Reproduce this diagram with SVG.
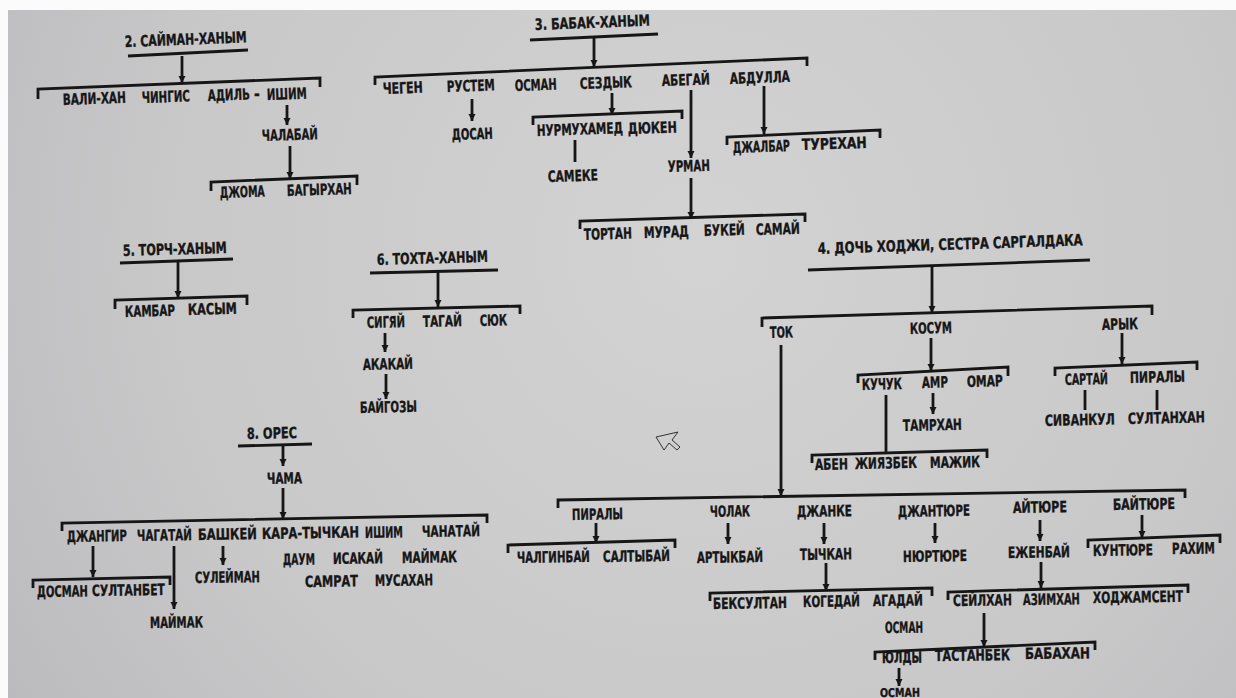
<svg xmlns="http://www.w3.org/2000/svg" width="1236" height="698" viewBox="0 0 1236 698">
<defs>
<radialGradient id="bg" cx="700" cy="250" r="900" gradientUnits="userSpaceOnUse">
<stop offset="0" stop-color="#d3d3d4"/>
<stop offset="0.6" stop-color="#c8c8c9"/>
<stop offset="1" stop-color="#b8b8bb"/>
</radialGradient>
<marker id="ah" markerUnits="userSpaceOnUse" markerWidth="9" markerHeight="8" refX="7" refY="3.5" orient="auto">
<path d="M0,0 L7,3.5 L0,7 z" fill="#161616"/>
</marker>
<style>
.t{font-family:"DejaVu Sans Condensed","Liberation Sans Narrow","Liberation Sans",sans-serif;font-weight:bold;font-size:15.5px;fill:#161616;stroke:#161616;stroke-width:0.35}
.c{stroke:#161616;stroke-width:2.8;fill:none;stroke-linejoin:miter}
.a{marker-end:url(#ah)}
</style>
</defs>
<rect width="1236" height="698" fill="#fbfbfb"/>
<rect x="8" y="10" width="1228" height="688" fill="url(#bg)"/>

<g id="connectors">
<!-- family 2 -->
<line class="c" x1="128" y1="56" x2="248" y2="50"/>
<line class="c a" x1="182" y1="56" x2="182" y2="83"/>
<polyline class="c" points="38,99 38,89 320,78 320,87"/>
<line class="c a" x1="287" y1="105" x2="287" y2="125"/>
<line class="c a" x1="290" y1="146" x2="290" y2="179"/>
<polyline class="c" points="211,191 211,182 357,176 357,185"/>
<!-- family 3 -->
<line class="c" x1="530" y1="40" x2="658" y2="34"/>
<line class="c a" x1="594" y1="38" x2="594" y2="67"/>
<polyline class="c" points="375,85 375,77 807,58 807,66"/>
<line class="c a" x1="472" y1="99" x2="472" y2="121"/>
<line class="c a" x1="612" y1="93" x2="612" y2="115"/>
<polyline class="c" points="533,125 533,117 682,111 682,119"/>
<line class="c" x1="575" y1="140" x2="575" y2="162"/>
<line class="c a" x1="691" y1="90" x2="691" y2="158"/>
<line class="c a" x1="691" y1="178" x2="691" y2="219"/>
<polyline class="c" points="580,229 580,221 805,214 805,222"/>
<line class="c a" x1="764" y1="86" x2="764" y2="134"/>
<polyline class="c" points="727,145 727,137 880,130 880,138"/>
<!-- family 5 -->
<line class="c" x1="120" y1="263" x2="233" y2="259"/>
<line class="c a" x1="178" y1="262" x2="178" y2="298"/>
<polyline class="c" points="115,309 115,300 247,296 247,305"/>
<!-- family 6 -->
<line class="c" x1="370" y1="273" x2="498" y2="270"/>
<line class="c a" x1="438" y1="272" x2="438" y2="307"/>
<polyline class="c" points="353,318 353,310 520,306 520,314"/>
<line class="c a" x1="385" y1="333" x2="385" y2="352"/>
<line class="c a" x1="386" y1="374" x2="386" y2="399"/>
<!-- family 8 -->
<line class="c" x1="238" y1="446" x2="312" y2="444"/>
<line class="c a" x1="283" y1="446" x2="283" y2="466"/>
<line class="c a" x1="283" y1="488" x2="283" y2="519"/>
<polyline class="c" points="62,531 62,523 487,515 487,523"/>
<line class="c a" x1="93" y1="546" x2="93" y2="577"/>
<polyline class="c" points="33,588 33,580 170,577 170,585"/>
<line class="c a" x1="174" y1="546" x2="174" y2="609"/>
<line class="c a" x1="223" y1="546" x2="223" y2="565"/>
<!-- family 4 -->
<line class="c" x1="808" y1="270" x2="1090" y2="260"/>
<line class="c a" x1="932" y1="266" x2="932" y2="313"/>
<polyline class="c" points="762,327 762,318 1152,306 1152,315"/>
<line class="c a" x1="781" y1="345" x2="781" y2="496"/>
<line class="c a" x1="931" y1="338" x2="931" y2="371"/>
<polyline class="c" points="858,383 858,375 1008,367 1008,376"/>
<line class="c a" x1="933" y1="393" x2="933" y2="414"/>
<line class="c" x1="886" y1="395" x2="886" y2="453"/>
<polyline class="c" points="812,463 812,455 987,450 987,458"/>
<line class="c a" x1="1122" y1="333" x2="1122" y2="364"/>
<polyline class="c" points="1055,376 1055,368 1197,362 1197,370"/>
<line class="c" x1="1085" y1="390" x2="1085" y2="410"/>
<line class="c" x1="1157" y1="390" x2="1157" y2="410"/>
<!-- Tok children -->
<polyline class="c" points="558,508 558,500 1185,490 1185,498"/>
<line class="c a" x1="596" y1="523" x2="596" y2="543"/>
<polyline class="c" points="508,553 508,545 675,540 675,548"/>
<line class="c a" x1="728" y1="523" x2="728" y2="544"/>
<line class="c a" x1="824" y1="523" x2="824" y2="544"/>
<line class="c a" x1="826" y1="563" x2="826" y2="591"/>
<polyline class="c" points="710,601 710,593 932,588 932,596"/>
<line class="c a" x1="935" y1="523" x2="935" y2="543"/>
<line class="c a" x1="1040" y1="520" x2="1040" y2="541"/>
<line class="c a" x1="1041" y1="562" x2="1041" y2="588"/>
<polyline class="c" points="948,600 948,592 1188,585 1188,593"/>
<line class="c a" x1="984" y1="613" x2="984" y2="647"/>
<polyline class="c" points="875,660 875,652 1095,642 1095,650"/>
<line class="c a" x1="899" y1="668" x2="899" y2="686"/>
<line class="c a" x1="1142" y1="515" x2="1142" y2="538"/>
<polyline class="c" points="1088,548 1088,540 1220,535 1220,543"/>
</g>

<!-- family 2 -->
<g id="n-saiman"><text class="t" x="125" y="47" textLength="122" lengthAdjust="spacingAndGlyphs" transform="rotate(-2.2 125 47)">2. САЙМАН-ХАНЫМ</text></g>
<g id="n-vali-khan"><text class="t" x="63" y="105" textLength="63" lengthAdjust="spacingAndGlyphs" transform="rotate(-2.1 63 105)">ВАЛИ-ХАН</text></g>
<g id="n-chingis"><text class="t" x="142" y="103" textLength="48" lengthAdjust="spacingAndGlyphs" transform="rotate(-2.1 142 103)">ЧИНГИС</text></g>
<g id="n-adil"><text class="t" x="208" y="101" textLength="42" lengthAdjust="spacingAndGlyphs" transform="rotate(-2.1 208 101)">АДИЛЬ</text><text class="t" x="254" y="99">-</text></g>
<g id="n-ishim1"><text class="t" x="267" y="100" textLength="40" lengthAdjust="spacingAndGlyphs" transform="rotate(-2.1 267 100)">ИШИМ</text></g>
<g id="n-chalabai"><text class="t" x="262" y="141" textLength="56" lengthAdjust="spacingAndGlyphs" transform="rotate(-1.95 262 141)">ЧАЛАБАЙ</text></g>
<g id="n-djoma"><text class="t" x="220" y="198" textLength="45" lengthAdjust="spacingAndGlyphs" transform="rotate(-1.8 220 198)">ДЖОМА</text></g>
<g id="n-bagyrkhan"><text class="t" x="287" y="196" textLength="65" lengthAdjust="spacingAndGlyphs" transform="rotate(-1.8 287 196)">БАГЫРХАН</text></g>

<!-- family 3 -->
<g id="n-babak"><text class="t" x="535" y="30" textLength="115" lengthAdjust="spacingAndGlyphs" transform="rotate(-2.2 535 30)">3. БАБАК-ХАНЫМ</text></g>
<g id="n-chegen"><text class="t" x="383" y="94" textLength="40" lengthAdjust="spacingAndGlyphs" transform="rotate(-2.1 383 94)">ЧЕГЕН</text></g>
<g id="n-rustem"><text class="t" x="447" y="92" textLength="48" lengthAdjust="spacingAndGlyphs" transform="rotate(-2.1 447 92)">РУСТЕМ</text></g>
<g id="n-osman1"><text class="t" x="515" y="91" textLength="42" lengthAdjust="spacingAndGlyphs" transform="rotate(-2.1 515 91)">ОСМАН</text></g>
<g id="n-sezdyk"><text class="t" x="580" y="89" textLength="52" lengthAdjust="spacingAndGlyphs" transform="rotate(-2.1 580 89)">СЕЗДЫК</text></g>
<g id="n-abegai"><text class="t" x="662" y="86" textLength="48" lengthAdjust="spacingAndGlyphs" transform="rotate(-2.1 662 86)">АБЕГАЙ</text></g>
<g id="n-abdulla"><text class="t" x="730" y="84" textLength="60" lengthAdjust="spacingAndGlyphs" transform="rotate(-2.1 730 84)">АБДУЛЛА</text></g>
<g id="n-dosan"><text class="t" x="452" y="140" textLength="41" lengthAdjust="spacingAndGlyphs" transform="rotate(-1.95 452 140)">ДОСАН</text></g>
<g id="n-nurmukhamed"><text class="t" x="537" y="136" textLength="86" lengthAdjust="spacingAndGlyphs" transform="rotate(-1.95 537 136)">НУРМУХАМЕД</text></g>
<g id="n-dyuken"><text class="t" x="628" y="134" textLength="49" lengthAdjust="spacingAndGlyphs" transform="rotate(-1.95 628 134)">ДЮКЕН</text></g>
<g id="n-sameke"><text class="t" x="548" y="182" textLength="50" lengthAdjust="spacingAndGlyphs" transform="rotate(-1.85 548 182)">САМЕКЕ</text></g>
<g id="n-urman"><text class="t" x="668" y="172" textLength="42" lengthAdjust="spacingAndGlyphs" transform="rotate(-1.85 668 172)">УРМАН</text></g>
<g id="n-tortan"><text class="t" x="584" y="240" textLength="48" lengthAdjust="spacingAndGlyphs" transform="rotate(-1.7 584 240)">ТОРТАН</text></g>
<g id="n-murad"><text class="t" x="644" y="238" textLength="45" lengthAdjust="spacingAndGlyphs" transform="rotate(-1.7 644 238)">МУРАД</text></g>
<g id="n-bukei"><text class="t" x="704" y="236" textLength="41" lengthAdjust="spacingAndGlyphs" transform="rotate(-1.7 704 236)">БУКЕЙ</text></g>
<g id="n-samai"><text class="t" x="756" y="235" textLength="44" lengthAdjust="spacingAndGlyphs" transform="rotate(-1.7 756 235)">САМАЙ</text></g>
<g id="n-djalbar"><text class="t" x="733" y="153" textLength="57" lengthAdjust="spacingAndGlyphs" transform="rotate(-1.9 733 153)">ДЖАЛБАР</text></g>
<g id="n-turekhan"><text class="t" x="802" y="150" textLength="65" lengthAdjust="spacingAndGlyphs" transform="rotate(-1.9 802 150)">ТУРЕХАН</text></g>

<!-- family 5 -->
<g id="n-torch"><text class="t" x="123" y="256" textLength="104" lengthAdjust="spacingAndGlyphs" transform="rotate(-1.65 123 256)">5. ТОРЧ-ХАНЫМ</text></g>
<g id="n-kambar"><text class="t" x="125" y="317" textLength="50" lengthAdjust="spacingAndGlyphs" transform="rotate(-1.5 125 317)">КАМБАР</text></g>
<g id="n-kasym"><text class="t" x="188" y="315" textLength="49" lengthAdjust="spacingAndGlyphs" transform="rotate(-1.5 188 315)">КАСЫМ</text></g>

<!-- family 6 -->
<g id="n-tokhta"><text class="t" x="377" y="265" textLength="111" lengthAdjust="spacingAndGlyphs" transform="rotate(-1.65 377 265)">6. ТОХТА-ХАНЫМ</text></g>
<g id="n-sigyai"><text class="t" x="367" y="328" textLength="38" lengthAdjust="spacingAndGlyphs" transform="rotate(-1.5 367 328)">СИГЯЙ</text></g>
<g id="n-tagai"><text class="t" x="423" y="327" textLength="39" lengthAdjust="spacingAndGlyphs" transform="rotate(-1.5 423 327)">ТАГАЙ</text></g>
<g id="n-syuk"><text class="t" x="480" y="326" textLength="27" lengthAdjust="spacingAndGlyphs" transform="rotate(-1.5 480 326)">СЮК</text></g>
<g id="n-akakai"><text class="t" x="363" y="370" textLength="50" lengthAdjust="spacingAndGlyphs" transform="rotate(-1.35 363 370)">АКАКАЙ</text></g>
<g id="n-baigozy"><text class="t" x="360" y="413" textLength="57" lengthAdjust="spacingAndGlyphs" transform="rotate(-1.25 360 413)">БАЙГОЗЫ</text></g>

<!-- family 8 -->
<g id="n-ores"><text class="t" x="247" y="439" textLength="50" lengthAdjust="spacingAndGlyphs" transform="rotate(-1.2 247 439)">8. ОРЕС</text></g>
<g id="n-chama"><text class="t" x="267" y="484" textLength="35" lengthAdjust="spacingAndGlyphs" transform="rotate(-1.1 267 484)">ЧАМА</text></g>
<g id="n-djangir"><text class="t" x="67" y="542" textLength="60" lengthAdjust="spacingAndGlyphs" transform="rotate(-1 67 542)">ДЖАНГИР</text></g>
<g id="n-chagatai"><text class="t" x="137" y="541" textLength="55" lengthAdjust="spacingAndGlyphs" transform="rotate(-1 137 541)">ЧАГАТАЙ</text></g>
<g id="n-bashkei"><text class="t" x="198" y="540" textLength="59" lengthAdjust="spacingAndGlyphs" transform="rotate(-1 198 540)">БАШКЕЙ</text></g>
<g id="n-kara-tychkan"><text class="t" x="262" y="539" textLength="97" lengthAdjust="spacingAndGlyphs" transform="rotate(-1 262 539)">КАРА-ТЫЧКАН</text></g>
<g id="n-ishim2"><text class="t" x="365" y="538" textLength="38" lengthAdjust="spacingAndGlyphs" transform="rotate(-1 365 538)">ИШИМ</text></g>
<g id="n-chanatai"><text class="t" x="422" y="537" textLength="58" lengthAdjust="spacingAndGlyphs" transform="rotate(-1 422 537)">ЧАНАТАЙ</text></g>
<g id="n-dosman"><text class="t" x="37" y="597" textLength="51" lengthAdjust="spacingAndGlyphs" transform="rotate(-0.8 37 597)">ДОСМАН</text></g>
<g id="n-sultanbet"><text class="t" x="92" y="596" textLength="73" lengthAdjust="spacingAndGlyphs" transform="rotate(-0.8 92 596)">СУЛТАНБЕТ</text></g>
<g id="n-maimak1"><text class="t" x="150" y="628" textLength="53" lengthAdjust="spacingAndGlyphs" transform="rotate(-0.7 150 628)">МАЙМАК</text></g>
<g id="n-suleiman"><text class="t" x="195" y="583" textLength="65" lengthAdjust="spacingAndGlyphs" transform="rotate(-0.8 195 583)">СУЛЕЙМАН</text></g>
<g id="n-daum"><text class="t" x="283" y="565" textLength="32" lengthAdjust="spacingAndGlyphs" transform="rotate(-0.9 283 565)">ДАУМ</text></g>
<g id="n-isakai"><text class="t" x="333" y="564" textLength="50" lengthAdjust="spacingAndGlyphs" transform="rotate(-0.9 333 564)">ИСАКАЙ</text></g>
<g id="n-maimak2"><text class="t" x="402" y="563" textLength="55" lengthAdjust="spacingAndGlyphs" transform="rotate(-0.9 402 563)">МАЙМАК</text></g>
<g id="n-samrat"><text class="t" x="305" y="587" textLength="53" lengthAdjust="spacingAndGlyphs" transform="rotate(-0.8 305 587)">САМРАТ</text></g>
<g id="n-musakhan"><text class="t" x="375" y="586" textLength="58" lengthAdjust="spacingAndGlyphs" transform="rotate(-0.8 375 586)">МУСАХАН</text></g>

<!-- family 4 -->
<g id="n-doch"><text class="t" x="818" y="254" textLength="265" lengthAdjust="spacingAndGlyphs" transform="rotate(-1.9 818 254)">4. ДОЧЬ ХОДЖИ, СЕСТРА САРГАЛДАКА</text></g>
<g id="n-tok"><text class="t" x="770" y="338" textLength="23" lengthAdjust="spacingAndGlyphs" transform="rotate(-1.5 770 338)">ТОК</text></g>
<g id="n-kosum"><text class="t" x="910" y="334" textLength="42" lengthAdjust="spacingAndGlyphs" transform="rotate(-1.5 910 334)">КОСУМ</text></g>
<g id="n-aryk"><text class="t" x="1102" y="330" textLength="36" lengthAdjust="spacingAndGlyphs" transform="rotate(-1.5 1102 330)">АРЫК</text></g>
<g id="n-kuchuk"><text class="t" x="862" y="390" textLength="40" lengthAdjust="spacingAndGlyphs" transform="rotate(-1.35 862 390)">КУЧУК</text></g>
<g id="n-amr"><text class="t" x="922" y="388" textLength="26" lengthAdjust="spacingAndGlyphs" transform="rotate(-1.35 922 388)">АМР</text></g>
<g id="n-omar"><text class="t" x="967" y="387" textLength="36" lengthAdjust="spacingAndGlyphs" transform="rotate(-1.35 967 387)">ОМАР</text></g>
<g id="n-tamrkhan"><text class="t" x="903" y="431" textLength="59" lengthAdjust="spacingAndGlyphs" transform="rotate(-1.25 903 431)">ТАМРХАН</text></g>
<g id="n-aben"><text class="t" x="815" y="470" textLength="33" lengthAdjust="spacingAndGlyphs" transform="rotate(-1.1 815 470)">АБЕН</text></g>
<g id="n-zhiyazbek"><text class="t" x="855" y="469" textLength="62" lengthAdjust="spacingAndGlyphs" transform="rotate(-1.1 855 469)">ЖИЯЗБЕК</text></g>
<g id="n-mazhik"><text class="t" x="930" y="468" textLength="50" lengthAdjust="spacingAndGlyphs" transform="rotate(-1.1 930 468)">МАЖИК</text></g>
<g id="n-sartai"><text class="t" x="1065" y="385" textLength="43" lengthAdjust="spacingAndGlyphs" transform="rotate(-1.35 1065 385)">САРТАЙ</text></g>
<g id="n-piraly1"><text class="t" x="1130" y="383" textLength="55" lengthAdjust="spacingAndGlyphs" transform="rotate(-1.35 1130 383)">ПИРАЛЫ</text></g>
<g id="n-sivankul"><text class="t" x="1045" y="426" textLength="70" lengthAdjust="spacingAndGlyphs" transform="rotate(-1.25 1045 426)">СИВАНКУЛ</text></g>
<g id="n-sultankhan"><text class="t" x="1128" y="424" textLength="77" lengthAdjust="spacingAndGlyphs" transform="rotate(-1.25 1128 424)">СУЛТАНХАН</text></g>

<!-- Tok children -->
<g id="n-piraly2"><text class="t" x="572" y="520" textLength="51" lengthAdjust="spacingAndGlyphs" transform="rotate(-1 572 520)">ПИРАЛЫ</text></g>
<g id="n-cholak"><text class="t" x="710" y="517" textLength="40" lengthAdjust="spacingAndGlyphs" transform="rotate(-1 710 517)">ЧОЛАК</text></g>
<g id="n-djanke"><text class="t" x="797" y="517" textLength="55" lengthAdjust="spacingAndGlyphs" transform="rotate(-1 797 517)">ДЖАНКЕ</text></g>
<g id="n-djantyure"><text class="t" x="898" y="517" textLength="72" lengthAdjust="spacingAndGlyphs" transform="rotate(-1 898 517)">ДЖАНТЮРЕ</text></g>
<g id="n-aityure"><text class="t" x="1013" y="513" textLength="54" lengthAdjust="spacingAndGlyphs" transform="rotate(-1 1013 513)">АЙТЮРЕ</text></g>
<g id="n-baityure"><text class="t" x="1113" y="510" textLength="62" lengthAdjust="spacingAndGlyphs" transform="rotate(-1 1113 510)">БАЙТЮРЕ</text></g>
<g id="n-chalginbai"><text class="t" x="517" y="563" textLength="73" lengthAdjust="spacingAndGlyphs" transform="rotate(-0.9 517 563)">ЧАЛГИНБАЙ</text></g>
<g id="n-saltybai"><text class="t" x="603" y="562" textLength="67" lengthAdjust="spacingAndGlyphs" transform="rotate(-0.9 603 562)">САЛТЫБАЙ</text></g>
<g id="n-artykbai"><text class="t" x="697" y="563" textLength="66" lengthAdjust="spacingAndGlyphs" transform="rotate(-0.9 697 563)">АРТЫКБАЙ</text></g>
<g id="n-tychkan"><text class="t" x="800" y="560" textLength="52" lengthAdjust="spacingAndGlyphs" transform="rotate(-0.9 800 560)">ТЫЧКАН</text></g>
<g id="n-beksultan"><text class="t" x="713" y="609" textLength="74" lengthAdjust="spacingAndGlyphs" transform="rotate(-0.8 713 609)">БЕКСУЛТАН</text></g>
<g id="n-kogedai"><text class="t" x="803" y="607" textLength="57" lengthAdjust="spacingAndGlyphs" transform="rotate(-0.8 803 607)">КОГЕДАЙ</text></g>
<g id="n-agadai"><text class="t" x="873" y="606" textLength="50" lengthAdjust="spacingAndGlyphs" transform="rotate(-0.8 873 606)">АГАДАЙ</text></g>
<g id="n-osman2"><text class="t" x="885" y="633" textLength="38" lengthAdjust="spacingAndGlyphs" transform="rotate(-0.7 885 633)">ОСМАН</text></g>
<g id="n-nyurtyure"><text class="t" x="903" y="562" textLength="64" lengthAdjust="spacingAndGlyphs" transform="rotate(-0.9 903 562)">НЮРТЮРЕ</text></g>
<g id="n-ezhenbai"><text class="t" x="1008" y="558" textLength="62" lengthAdjust="spacingAndGlyphs" transform="rotate(-0.9 1008 558)">ЕЖЕНБАЙ</text></g>
<g id="n-seilkhan"><text class="t" x="953" y="606" textLength="59" lengthAdjust="spacingAndGlyphs" transform="rotate(-0.8 953 606)">СЕЙЛХАН</text></g>
<g id="n-azimkhan"><text class="t" x="1023" y="605" textLength="57" lengthAdjust="spacingAndGlyphs" transform="rotate(-0.8 1023 605)">АЗИМХАН</text></g>
<g id="n-khodjamsent"><text class="t" x="1093" y="603" textLength="90" lengthAdjust="spacingAndGlyphs" transform="rotate(-0.8 1093 603)">ХОДЖАМСЕНТ</text></g>
<g id="n-yuldy"><text class="t" x="882" y="663" textLength="40" lengthAdjust="spacingAndGlyphs" transform="rotate(-0.65 882 663)">ЮЛДЫ</text></g>
<g id="n-tastanbek"><text class="t" x="935" y="661" textLength="75" lengthAdjust="spacingAndGlyphs" transform="rotate(-0.65 935 661)">ТАСТАНБЕК</text></g>
<g id="n-babakhan"><text class="t" x="1025" y="659" textLength="65" lengthAdjust="spacingAndGlyphs" transform="rotate(-0.65 1025 659)">БАБАХАН</text></g>
<g id="n-osman3"><text class="t" x="880" y="697" textLength="40" lengthAdjust="spacingAndGlyphs" style="font-size:12px" transform="rotate(-0.55 880 697)">ОСМАН</text></g>
<g id="n-kuntyure"><text class="t" x="1093" y="556" textLength="60" lengthAdjust="spacingAndGlyphs" transform="rotate(-0.9 1093 556)">КУНТЮРЕ</text></g>
<g id="n-rakhim"><text class="t" x="1172" y="554" textLength="43" lengthAdjust="spacingAndGlyphs" transform="rotate(-0.9 1172 554)">РАХИМ</text></g>

<!-- mouse pointer -->
<path d="M656,437 L678,432 L672,440 L680,447 L677,450 L669,443 L664,450 Z" fill="none" stroke="#333" stroke-width="1"/>
</svg>
